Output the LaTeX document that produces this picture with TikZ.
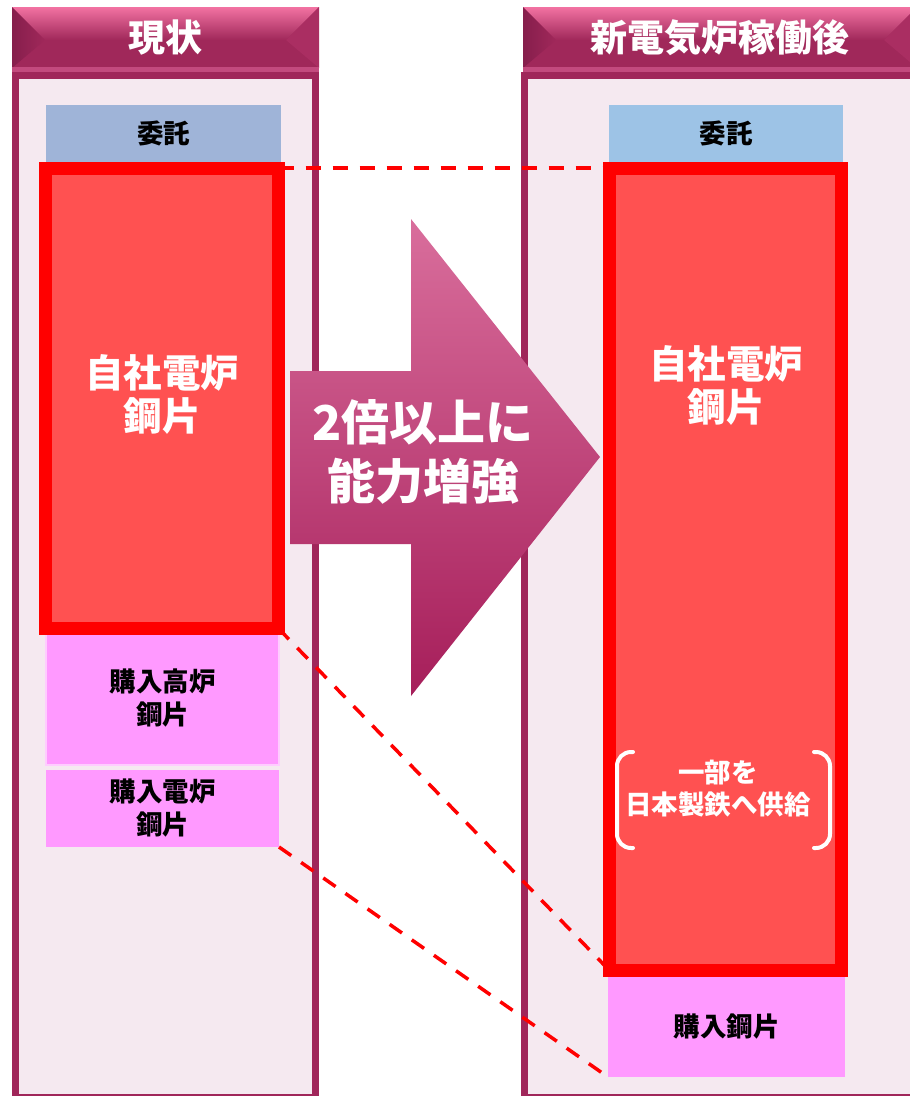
\documentclass[tikz,border=0pt]{standalone}
\usepackage{fontspec}
\newfontfamily\jp{Noto Sans CJK JP}
\usetikzlibrary{calc}
\definecolor{panelborder}{HTML}{A0265A}
\definecolor{panelfill}{HTML}{F5E9F0}
\definecolor{hdrface}{HTML}{A0285A}
\definecolor{hdrtop}{HTML}{F272A2}
\definecolor{hdrdark}{HTML}{861E4C}
\definecolor{hdrright}{HTML}{AA2E62}
\definecolor{hdrlight}{HTML}{C34A7E}
\definecolor{arrowtop}{HTML}{D96E9C}
\definecolor{arrowbot}{HTML}{A61E5A}
\definecolor{redfill}{HTML}{FF5151}
\definecolor{redline}{HTML}{FF0000}
\definecolor{pinkfill}{HTML}{FF99FF}
\definecolor{pinkline}{HTML}{FFCCFF}
\definecolor{blueA}{HTML}{9FB4D8}
\definecolor{blueB}{HTML}{9DC3E6}
\tikzset{
  panel/.style={draw=panelborder, line width=7pt, fill=panelfill},
  box/.style={inner sep=0pt, outer sep=0pt, align=center, text=black,
    font=\jp\bfseries\fontsize{26.5}{33}\selectfont},
  redbox/.style={draw=redline, line width=13pt, fill=redfill, inner sep=0pt, outer sep=0pt},
  redtext/.style={text=white, align=center, font=\jp\bfseries\fontsize{38.5}{43}\selectfont},
  hdrtext/.style={text=white, font=\jp\bfseries\fontsize{37}{40}\selectfont},
  arrowtext/.style={text=white, align=center, font=\jp\bfseries\fontsize{48}{59}\selectfont},
  notetext/.style={text=white, align=center, font=\jp\bfseries\fontsize{26.5}{32}\selectfont},
  bracketline/.style={draw=white, line width=4pt, rounded corners=14pt, line cap=round},
  dashline/.style={draw=redline, line width=3.5pt, dash pattern=on 15pt off 12pt}
}
\newcommand\hdrbox[2]{%
  \fill[hdrface] (#1,7) rectangle (#2,72);
  \shade[top color=hdrtop, bottom color=hdrface] (#1,7) -- (#2,7) -- ({#2-33},40) -- ({#1+33},40) -- cycle;
  \shade[left color=hdrdark, right color=hdrface] (#1,7) -- ({#1+33},40) -- (#1,68) -- cycle;
  \fill[hdrright] (#2,7) -- ({#2-33},40) -- (#2,68) -- cycle;
  \fill[hdrlight] (#1,67) rectangle (#2,72);
}
\begin{document}
\begin{tikzpicture}[x=1pt,y=-1pt]
\useasboundingbox (0,0) rectangle (910,1096);
\clip (0,0) rectangle (910,1096);
\fill[white] (0,0) rectangle (910,1096);
% panels
\draw[panel] (15.5,75.5) rectangle (315.5,1097.5);
\draw[panel] (524.5,75.5) rectangle (916,1097.5);
\hdrbox{12}{319}
\hdrbox{523}{917}
\node[hdrtext] (h1) at (165,38) {現状};
\node[hdrtext] (h2) at (720,38) {新電気炉稼働後};
% left column
\node[box, fill=blueA, minimum width=235pt, minimum height=57pt] (la) at (163.5,133.5) {委託};
\node[box, fill=pinkfill, draw=pinkline, line width=1.5pt, minimum width=233pt, minimum height=134pt] (lp1) at (162.5,698) {購入高炉\\鋼片};
\node[box, fill=pinkfill, minimum width=233pt, minimum height=77pt] (lp2) at (162.5,808.5) {購入電炉\\鋼片};
\node[redbox, minimum width=233pt, minimum height=460.5pt] (lr) at (162,398.25) {};
\node[redtext] (lrt) at (162,394) {自社電炉\\鋼片};
% right column
\node[box, fill=blueB, minimum width=234pt, minimum height=57pt] (ra) at (726,133.5) {委託};
\node[box, fill=pinkfill, minimum width=237pt, minimum height=101pt] (rp) at (726.5,1026.5) {購入鋼片};
\node[redbox, minimum width=232pt, minimum height=802.5pt] (rr) at (725.5,569.25) {};
\node[redtext] (rrt) at (726,385) {自社電炉\\鋼片};
\node[notetext] (note) at (718,789) {一部を\\日本製鉄へ供給};
\draw[bracketline] (633,752) -- (617,752) -- (617,848) -- (633,848);
\draw[bracketline] (814,752) -- (830,752) -- (830,848) -- (814,848);
% arrow
\shade[top color=arrowtop, bottom color=arrowbot]
  (290,371) -- (411,371) -- (411,219) -- (600,457) -- (411,696) -- (411,544) -- (290,544) -- cycle;
\node[arrowtext] (at) at (423,452) {2倍以上に\\能力増強};
% dashed connectors
\draw[dashline] (lr.north east) -- (rr.north west);
\draw[dashline] (lr.south east) -- (rr.south west);
\draw[dashline] (lp2.south east) -- (rp.south west);
\end{tikzpicture}
\end{document}
